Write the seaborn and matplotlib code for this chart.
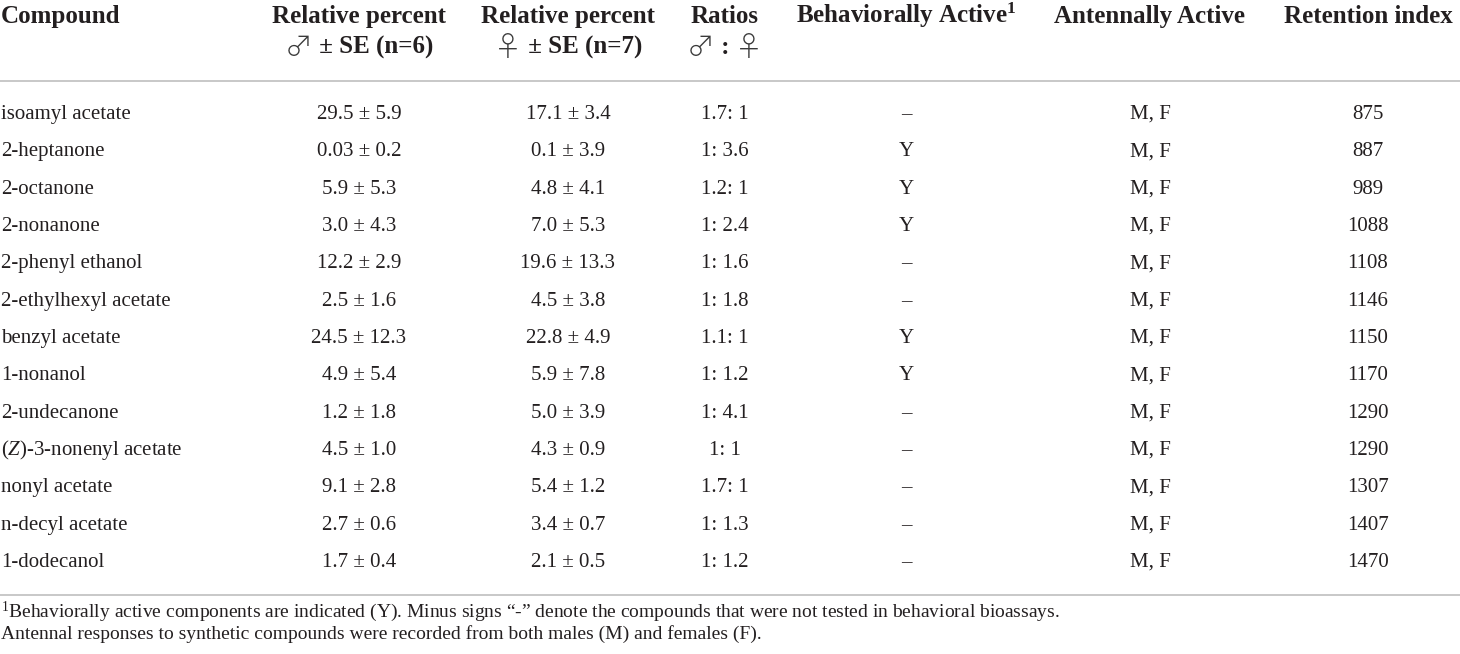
import matplotlib
matplotlib.use("Agg")
import matplotlib.pyplot as plt
import seaborn as sns

# table content
compounds = ["isoamyl acetate", "2-heptanone", "2-octanone", "2-nonanone",
             "2-phenyl ethanol", "2-ethylhexyl acetate", "benzyl acetate",
             "1-nonanol", "2-undecanone", r"($\mathit{Z}$)-3-nonenyl acetate",
             "nonyl acetate", "n-decyl acetate", "1-dodecanol"]
male_mean = [29.5, 0.03, 5.9, 3.0, 12.2, 2.5, 24.5, 4.9, 1.2, 4.5, 9.1, 2.7, 1.7]
male_se = [5.9, 0.2, 5.3, 4.3, 2.9, 1.6, 12.3, 5.4, 1.8, 1.0, 2.8, 0.6, 0.4]
female_mean = [17.1, 0.1, 4.8, 7.0, 19.6, 4.5, 22.8, 5.9, 5.0, 4.3, 5.4, 3.4, 2.1]
female_se = [3.4, 3.9, 4.1, 5.3, 13.3, 3.8, 4.9, 7.8, 3.9, 0.9, 1.2, 0.7, 0.5]
ratios = ["1.7: 1", "1: 3.6", "1.2: 1", "1: 2.4", "1: 1.6", "1: 1.8", "1.1: 1",
          "1: 1.2", "1: 4.1", "1: 1", "1.7: 1", "1: 1.3", "1: 1.2"]
behav_active = ["–", "Y", "Y", "Y", "–", "–", "Y", "Y", "–", "–", "–", "–", "–"]
antenn_active = ["M, F"] * 13
retention = [875, 887, 989, 1088, 1108, 1146, 1150, 1170, 1290, 1290, 1307, 1407, 1470]

headers = ["Compound", "Relative percent", "Relative percent", "Ratios",
           r"Behaviorally Active$^{\mathbf{1}}$", "Antennally Active", "Retention index"]
# second header line, split into (text, is_symbol) pieces
subheaders = [[],
              [("♂", True), (" ± SE (n=6)", False)],
              [("♀", True), (" ± SE (n=7)", False)],
              [("♂", True), (" : ", False), ("♀", True)],
              [], [], []]
footnotes = [r"$^{1}$Behaviorally active components are indicated (Y). Minus signs “-” denote the "
             "compounds that were not tested in behavioral bioassays.",
             "Antennal responses to synthetic compounds were recorded from both males (M) "
             "and females (F)."]


def fmt(v):
    return f"{v:.2f}" if round(v, 1) != v else f"{v:.1f}"


sns.set_theme(style="white")
plt.rcParams["font.family"] = ["Liberation Serif", "DejaVu Sans"]
plt.rcParams["mathtext.fontset"] = "custom"
plt.rcParams["mathtext.rm"] = "Liberation Serif"
plt.rcParams["mathtext.it"] = "Liberation Serif:italic"
plt.rcParams["mathtext.bf"] = "Liberation Serif:bold"

TXT = "#231f20"
col_x = [1, 359, 568, 725, 906, 1150, 1368]

fig = plt.figure(figsize=(14.6, 6.54), dpi=100)
ax = fig.add_axes([0, 0, 1, 1])
ax.set_xlim(0, 1460)
ax.set_ylim(654, 0)
ax.axis("off")
renderer = fig.canvas.get_renderer()

for i, h in enumerate(headers):
    ha = "left" if i == 0 else "center"
    ax.text(col_x[i], 23, h, ha=ha, va="baseline", fontsize=18,
            fontweight="bold", color=TXT)
    pieces = subheaders[i]
    if not pieces:
        continue
    items = []
    for s, sym in pieces:
        if sym:
            t = ax.text(0, 56, s, va="baseline", fontsize=20,
                        family=["Noto Sans CJK JP", "DejaVu Sans"],
                        fontweight="light", color="#3a3a3a")
        else:
            t = ax.text(0, 54, s, va="baseline", fontsize=18, fontweight="bold",
                        color=TXT)
        w = t.get_window_extent(renderer).width
        items.append((t, w))
    total = sum(w for _, w in items)
    x = col_x[i] - total / 2
    for t, w in items:
        t.set_x(x)
        x += w

ax.axhline(80.5, color="#c4c4c4", lw=1.3)

for r in range(len(compounds)):
    y = 119 + r * 37.33
    row = [compounds[r],
           f"{fmt(male_mean[r])} ± {male_se[r]:.1f}",
           f"{fmt(female_mean[r])} ± {female_se[r]:.1f}",
           ratios[r], behav_active[r], antenn_active[r], str(retention[r])]
    for i, s in enumerate(row):
        ax.text(col_x[i], y, s, ha="left" if i == 0 else "center",
                va="baseline", fontsize=15, color=TXT)

ax.axhline(595, color="#c4c4c4", lw=1.3)

ax.text(1, 617, footnotes[0], ha="left", va="baseline", fontsize=14, color=TXT)
ax.text(1, 639, footnotes[1], ha="left", va="baseline", fontsize=14, color=TXT)

fig.savefig("out.png", dpi=100)
